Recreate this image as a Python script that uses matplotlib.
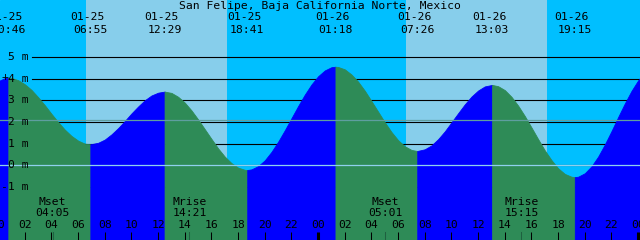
import matplotlib
matplotlib.use("Agg")
import matplotlib.pyplot as plt
import matplotlib.transforms as mtransforms
import numpy as np

# Tide height (m) every half hour from 01-25 00:00 to 01-27 01:00
curve_heights = [
    3.89, 4.03, 4.04, 3.94, 3.75, 3.49, 3.15, 2.78, 2.38, 2.00,    # 00:00 - 04:30
    1.65, 1.36, 1.14, 1.00, 0.98, 1.04, 1.19, 1.43, 1.72, 2.05,    # 05:00 - 09:30
    2.40, 2.72, 3.01, 3.23, 3.36, 3.41, 3.35, 3.17, 2.90, 2.54,    # 10:00 - 14:30
    2.12, 1.67, 1.22, 0.78, 0.40, 0.10, -0.11, -0.21, -0.19, -0.04,  # 15:00 - 19:30
    0.23, 0.62, 1.09, 1.62, 2.18, 2.74, 3.27, 3.74, 4.12, 4.39,    # 20:00 - 00:30
    4.54, 4.55, 4.44, 4.20, 3.87, 3.45, 2.97, 2.48, 1.99, 1.54,    # 01:00 - 05:30
    1.16, 0.88, 0.71, 0.66, 0.74, 0.92, 1.21, 1.57, 1.99, 2.41,    # 06:00 - 10:30
    2.82, 3.18, 3.46, 3.65, 3.71, 3.66, 3.48, 3.17, 2.76, 2.28,    # 11:00 - 15:30
    1.75, 1.21, 0.69, 0.24, -0.14, -0.40, -0.53, -0.53, -0.37, -0.05,  # 16:00 - 20:30
    0.40, 0.96, 1.58, 2.23, 2.86, 3.44, 3.93, 4.28, 4.50,          # 21:00 - 01:00
]

# High / low tide events
tide_dates = ["01-25", "01-25", "01-25", "01-25", "01-26", "01-26", "01-26", "01-26"]
tide_clock = ["00:46", "06:55", "12:29", "18:41", "01:18", "07:26", "13:03", "19:15"]
tide_heights = [4.05, 0.97, 3.41, -0.22, 4.56, 0.66, 3.72, -0.55]

# Moon events
moon_kind = ["Mset", "Mrise", "Mset", "Mrise"]
moon_dates = ["01-25", "01-25", "01-26", "01-26"]
moon_clock = ["04:05", "14:21", "05:01", "15:15"]

# Daylight
sun_dates = ["01-25", "01-26"]
sunrise_clock = ["06:35", "06:35"]
sunset_clock = ["17:10", "17:10"]

levels = [-1, 0, 1, 2, 3, 4, 5]
mean_sea_level = 2.08
now_mark = (0.5, 4.1)

title = "San Felipe, Baja California Norte, Mexico"

NIGHT = "#00bfff"
DAY = "#87ceeb"
RISE = "#0000ff"
FALL = "#2e8b57"
FONT = "DejaVu Sans Mono"
FS = 8.2


def to_hours(date, clock):
    day = int(date[3:]) - 25
    hh, mm = clock.split(":")
    return day * 24 + int(hh) + int(mm) / 60.0


t_lo, t_hi = 0.14, 48.14
h_lo, h_hi = -3.46, 7.65

fig = plt.figure(figsize=(6.4, 2.4), dpi=100)
ax = fig.add_axes([0, 0, 1, 1])
ax.set_xlim(t_lo, t_hi)
ax.set_ylim(h_lo, h_hi)
ax.axis("off")
ax.add_patch(plt.Rectangle((0, 0), 1, 1, transform=ax.transAxes, color=NIGHT, zorder=0))

for d, r, s in zip(sun_dates, sunrise_clock, sunset_clock):
    ax.axvspan(to_hours(d, r), to_hours(d, s), color=DAY, lw=0, zorder=0.5)

for lv in levels:
    ax.axhline(lv, xmin=0.05, xmax=1, color="black", lw=0.8, zorder=1)

# merge the half-hourly readings with the extremes
ev_t = [to_hours(d, c) for d, c in zip(tide_dates, tide_clock)]
curve_t = np.arange(len(curve_heights)) * 0.5
keep = [min(abs(x - e) for e in ev_t) > 0.1 for x in curve_t]
pts = sorted([(x, y) for x, y, k in zip(curve_t, curve_heights, keep) if k] + list(zip(ev_t, tide_heights)))
t = np.array([p[0] for p in pts], dtype=float)
h = np.array([p[1] for p in pts])

d = np.sign(np.diff(h))
start = 0
for i in range(1, len(d) + 1):
    if i == len(d) or d[i] != d[start]:
        col = RISE if d[start] > 0 else FALL
        ax.fill_between(t[start:i + 1], h[start:i + 1], h_lo, color=col, lw=0.6,
                        edgecolor=col, zorder=2)
        start = i

ax.axhline(mean_sea_level, color="#5f9ea0", lw=0.9, zorder=3)
ax.axhline(0, color="#8fd0ee", lw=0.9, zorder=3)

for lv in levels:
    ax.text(0.0453, lv, "%d m" % lv, transform=mtransforms.blended_transform_factory(ax.transAxes, ax.transData),
            ha="right", va="center", family=FONT, fontsize=FS, zorder=4)

ax.text(now_mark[0], now_mark[1], "+", ha="center", va="center", family=FONT, fontsize=FS, zorder=4)

xt = mtransforms.blended_transform_factory(ax.transData, ax.transAxes)
xt_date = mtransforms.offset_copy(xt, fig=fig, x=-3, y=0, units="dots")
ax.text(0.5, 0.975, title, transform=ax.transAxes, ha="center", va="center", family=FONT, fontsize=FS, zorder=5)
for x, dt, c in zip(ev_t, tide_dates, tide_clock):
    ax.text(x, 0.929, dt, transform=xt_date, ha="center", va="center", family=FONT, fontsize=FS, zorder=5)
    ax.text(x, 0.875, c, transform=xt, ha="center", va="center", family=FONT, fontsize=FS, zorder=5)

for k, dt, c in zip(moon_kind, moon_dates, moon_clock):
    x = to_hours(dt, c)
    ax.text(x, 0.158, k, transform=xt, ha="center", va="center", family=FONT, fontsize=FS, zorder=5)
    ax.text(x, 0.1125, c, transform=xt, ha="center", va="center", family=FONT, fontsize=FS, zorder=5)
    ax.plot([x, x], [0, 0.033], transform=xt, color="#1f6040", lw=0.75, zorder=5)

for hr in range(0, 50, 2):
    ax.text(hr, 0.0625, "%02d" % (hr % 24), transform=xt, ha="center", va="center",
            family=FONT, fontsize=FS, zorder=5)
    ax.plot([hr, hr], [0, 0.033], transform=xt, color="black",
            lw=2.2 if hr % 24 == 0 else 0.75, zorder=5, solid_capstyle="butt")

fig.savefig("out.png", dpi=100)
